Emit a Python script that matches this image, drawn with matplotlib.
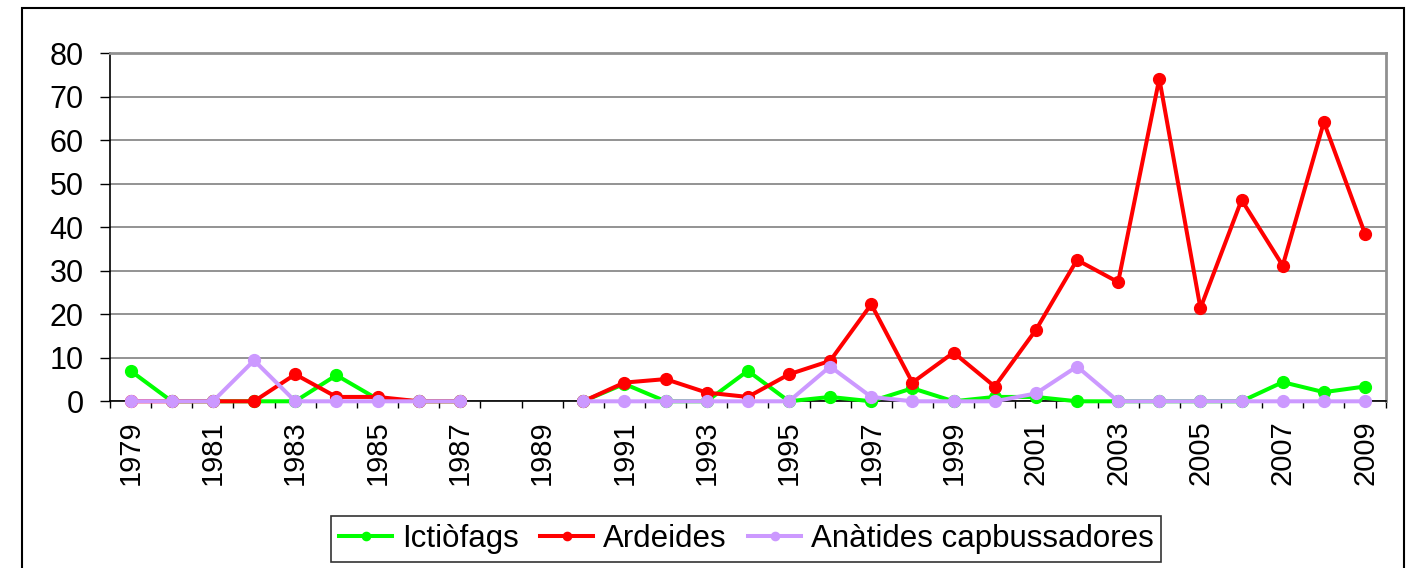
import numpy as np
import matplotlib
matplotlib.use("Agg")
import matplotlib.pyplot as plt
from matplotlib.patches import Rectangle

plt.rcParams["font.family"] = ["Liberation Sans", "DejaVu Sans"]

years = list(range(1979, 2010))
nan = np.nan

# 1988 i 1989 sense dades
ictiofags = [7, 0, 0, 0, 0, 6, 0.5, 0, 0, nan, nan,
             0, 4, 0, 0, 7, 0, 1, 0, 3, 0,
             1, 1, 0, 0, 0, 0, 0, 4.4, 2.1, 3.4]
ardeides = [0, 0, 0, 0, 6.2, 1, 1, 0, 0, nan, nan,
            0, 4.3, 5.1, 2, 1, 6.2, 9.3, 22.3, 4.3, 11.2,
            3.4, 16.4, 32.5, 27.4, 74.2, 21.4, 46.3, 31.2, 64.2, 38.5]
anatides = [0, 0, 0, 9.4, 0, 0, 0, 0, 0, nan, nan,
            0, 0, 0, 0, 0, 0, 8, 1, 0, 0,
            0, 1.8, 8, 0, 0, 0, 0, 0, 0, 0]

series = [
    ("Ictiòfags", ictiofags, "#00ff00"),
    ("Ardeides", ardeides, "#ff0000"),
    ("Anàtides capbussadores", anatides, "#cc99ff"),
]

fig = plt.figure(figsize=(14.11, 5.68), dpi=100)
ax = fig.add_axes([0.078, 0.2935, 0.904, 0.6125])

x = np.arange(len(years))
for name, vals, col in series:
    ax.plot(x, vals, "-o", color=col, linewidth=2.9, markersize=8.5,
            label=name, clip_on=False, zorder=3)

ax.set_xlim(-0.5, len(years) - 0.5)
ax.set_ylim(0, 80)
ax.set_yticks(range(0, 81, 10))
ax.set_xticks(x[::2])
ax.set_xticklabels([str(y) for y in years[::2]], rotation=90)
ax.set_xticks(np.arange(-0.5, len(years), 1), minor=True)
ax.tick_params(axis="x", which="major", length=0, pad=14, labelsize=21)
ax.tick_params(axis="x", which="minor", length=5, width=1, direction="out")
ax.tick_params(axis="y", length=7, width=1, pad=12, labelsize=22)

ax.grid(axis="y", color="#808080", linewidth=1.2)
ax.set_axisbelow(True)
for s in ["left", "bottom"]:
    ax.spines[s].set_color("black")
    ax.spines[s].set_linewidth(1.2)
for s in ["top", "right"]:
    ax.spines[s].set_color("#909090")
    ax.spines[s].set_linewidth(2)

leg = fig.legend(loc="center", bbox_to_anchor=(0.529, 0.051), ncol=3,
                 fontsize=22.5, frameon=True, fancybox=False, edgecolor="black",
                 handlelength=1.7, markerscale=0.7, columnspacing=0.7,
                 handletextpad=0.3, borderpad=0.25)
leg.get_frame().set_linewidth(1.2)

fig.patches.append(Rectangle((22 / 1411, -0.05), 1382 / 1411, 1.05 - 8 / 568,
                             transform=fig.transFigure, fill=False,
                             edgecolor="black", linewidth=1.5))

fig.savefig("out.png", dpi=100)
